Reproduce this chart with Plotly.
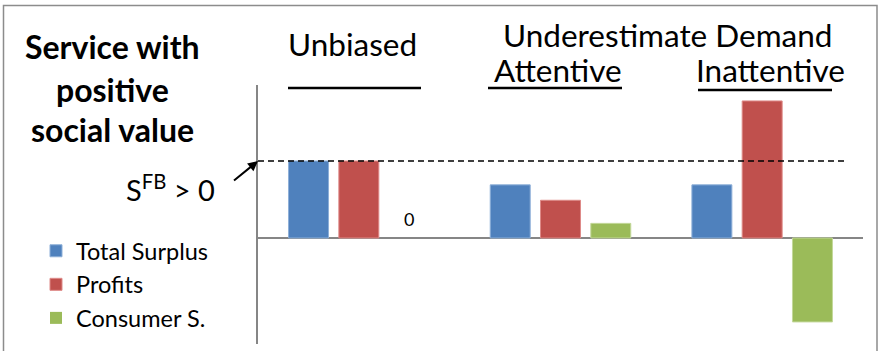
import plotly.graph_objects as go

# Scenarios and outcome measures (S^FB normalised to 1)
scenarios = ["Unbiased", "Attentive", "Inattentive"]
total_surplus = [1.0, 0.69, 0.69]
profits = [1.0, 0.49, 1.78]
consumer_surplus = [0.0, 0.19, -1.09]
first_best = 1.0

BLUE, RED, GREEN = "#4F81BD", "#C0504D", "#9BBB59"
AXIS_GREY = "#868686"
FONT = "Lato"

W, H = 880, 351
L, R, T, B = 258, 17, 85, 7
BARGAP, BARGROUPGAP = 0.252, 0.205
PLOT_W = W - L - R


def px(x):
    return (x - L) / PLOT_W


def py(y):
    return (H - B - y) / (H - T - B)


def edge_width(values):
    # no outline on zero-height bars
    return [0 if v == 0 else 1 for v in values]


fig = go.Figure()
fig.add_trace(go.Bar(name="Total Surplus", x=scenarios, y=total_surplus,
                     marker=dict(color=BLUE, line=dict(color="#8DAFD8",
                                                       width=edge_width(total_surplus)))))
fig.add_trace(go.Bar(name="Profits", x=scenarios, y=profits,
                     marker=dict(color=RED, line=dict(color="#DE8A88",
                                                      width=edge_width(profits)))))
fig.add_trace(go.Bar(name="Consumer S.", x=scenarios, y=consumer_surplus,
                     marker=dict(color=GREEN, line=dict(color="#C3D89A",
                                                        width=edge_width(consumer_surplus)))))

# Value label for the consumer-surplus bar of the unbiased case
slot_px = PLOT_W / len(scenarios) * (1 - BARGAP) / 3
fig.add_annotation(x=scenarios[0], y=consumer_surplus[0], xref="x", yref="y",
                   text=f"{consumer_surplus[0]:g}", showarrow=False,
                   xshift=slot_px, yanchor="bottom", yshift=6,
                   font=dict(family=FONT, size=18, color="#000000"))

annotations = [
    dict(text="<b>Service with</b>", x=px(112), y=py(46.5), size=32),
    dict(text="<b>positive</b>", x=px(112), y=py(89.5), size=32),
    dict(text="<b>social value</b>", x=px(112), y=py(129.5), size=32),
    dict(text="S<sup>FB</sup> > 0", x=px(170), y=py(188), size=29),
    dict(text="Unbiased", x=px(352), y=py(44), size=31.5),
    dict(text="Underestimate Demand", x=px(667), y=py(35), size=31.5),
    dict(text="Attentive", x=px(558), y=py(70), size=31.5),
    dict(text="Inattentive", x=px(770), y=py(70), size=31.5),
]
for a in annotations:
    fig.add_annotation(text=a["text"], x=a["x"], y=a["y"], xref="paper", yref="paper",
                       xanchor="center", yanchor="middle", showarrow=False,
                       font=dict(family=FONT, size=a["size"], color="#000000"))

# Arrow pointing at the first-best level
fig.add_annotation(x=0, y=first_best, xref="paper", yref="y", ax=-27, ay=22,
                   showarrow=True, arrowhead=2, arrowsize=1, arrowwidth=2,
                   arrowcolor="#000000", text=" ")

# First-best reference line
fig.add_shape(type="line", xref="paper", yref="y", x0=0, x1=px(848),
              y0=first_best, y1=first_best,
              line=dict(color="#000000", width=1.5, dash="6px,4px"))

# Underlines below the scenario headings
for x0, x1, y in [(288, 421, 88), (488, 622, 88), (698, 832, 90)]:
    fig.add_shape(type="line", xref="paper", yref="paper", x0=px(x0), x1=px(x1),
                  y0=py(y), y1=py(y), line=dict(color="#000000", width=2.5))

# Frame around the figure
fig.add_shape(type="rect", xref="paper", yref="paper", x0=px(3.5), x1=px(877),
              y0=py(360), y1=py(5.5), line=dict(color="#8C8C8C", width=1.5))

fig.update_layout(
    width=W, height=H,
    margin=dict(l=L, r=R, t=T, b=B, pad=0),
    paper_bgcolor="#FFFFFF", plot_bgcolor="#FFFFFF",
    barmode="group", bargap=BARGAP, bargroupgap=BARGROUPGAP,
    showlegend=True,
    legend=dict(x=px(36), y=py(229), xanchor="left", yanchor="top",
                font=dict(family=FONT, size=23.5, color="#000000"),
                bgcolor="rgba(0,0,0,0)", tracegroupgap=0),
    xaxis=dict(showticklabels=False, showgrid=False, zeroline=False,
               showline=False, ticks=""),
    yaxis=dict(range=[-(343 - 237) / 77, (237 - 84) / 77],
               showticklabels=False, showgrid=False, ticks="",
               showline=True, linecolor=AXIS_GREY, linewidth=2,
               zeroline=True, zerolinecolor=AXIS_GREY, zerolinewidth=2),
)

fig.write_html("out.html")
